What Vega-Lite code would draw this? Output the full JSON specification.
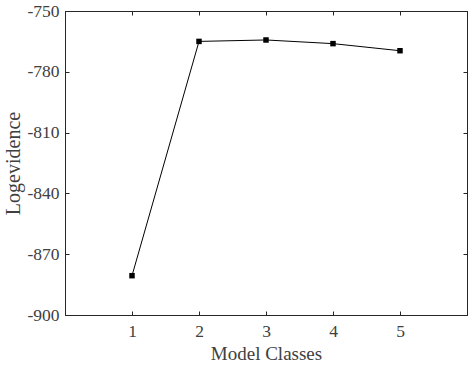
{
  "$schema": "https://vega.github.io/schema/vega-lite/v6.json",
  "width": 402,
  "height": 304,
  "autosize": {"type": "none"},
  "padding": {"left": 65, "top": 11, "right": 1, "bottom": 52},
  "background": "white",
  "config": {
    "view": {"stroke": "#262626", "strokeWidth": 1},
    "axis": {
      "labelFont": "Liberation Serif",
      "titleFont": "Liberation Serif",
      "labelFontSize": 17.5,
      "titleFontSize": 19,
      "titleFontWeight": "normal",
      "labelColor": "#404040",
      "titleColor": "#404040",
      "domainColor": "#262626",
      "tickColor": "#262626",
      "grid": false,
      "tickSize": -4
    }
  },
  "data": {
    "values": [
      {"k": 1, "v": -880.6},
      {"k": 2, "v": -765.0},
      {"k": 3, "v": -764.3},
      {"k": 4, "v": -766.1},
      {"k": 5, "v": -769.6}
    ]
  },
  "layer": [
    {
      "mark": {"type": "line", "color": "#000000", "strokeWidth": 1},
      "encoding": {
        "x": {"field": "k", "type": "quantitative", "scale": {"domain": [0, 6], "nice": false, "zero": false},
              "axis": {"orient": "bottom", "values": [1, 2, 3, 4, 5], "title": "Model Classes", "labelPadding": 11, "titlePadding": 5, "labelFlush": false}},
        "y": {"field": "v", "type": "quantitative", "scale": {"domain": [-900, -750], "nice": false, "zero": false},
              "axis": {"orient": "left", "values": [-900, -870, -840, -810, -780, -750], "labelExpr": "'' + datum.value", "title": "Logevidence", "titleFontSize": 20, "labelPadding": 10, "titlePadding": 3, "labelFlush": false}}
      }
    },
    {
      "mark": {"type": "point", "shape": "square", "filled": true, "color": "#000000", "opacity": 1, "size": 30},
      "encoding": {
        "x": {"field": "k", "type": "quantitative", "scale": {"domain": [0, 6], "nice": false, "zero": false},
              "axis": {"orient": "top", "values": [1, 2, 3, 4, 5], "labels": false, "title": null}},
        "y": {"field": "v", "type": "quantitative", "scale": {"domain": [-900, -750], "nice": false, "zero": false},
              "axis": {"orient": "right", "values": [-900, -870, -840, -810, -780, -750], "labels": false, "title": null}}
      }
    }
  ],
  "resolve": {"axis": {"x": "independent", "y": "independent"}}
}
